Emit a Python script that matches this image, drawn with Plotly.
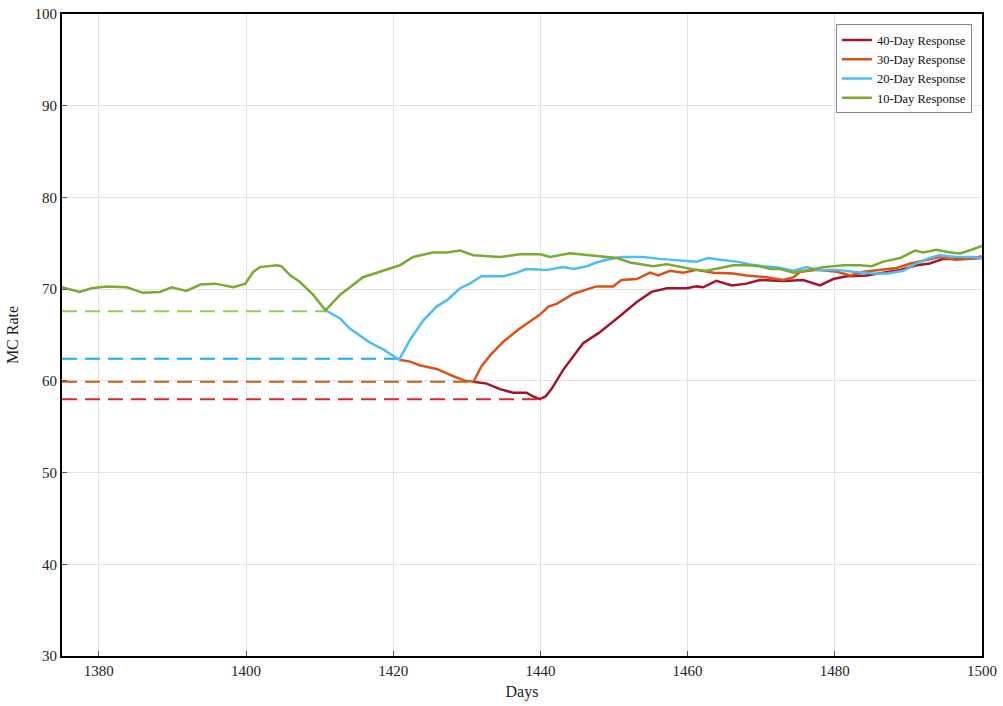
import plotly.graph_objects as go

# ---- data ----
d10 = [1375, 1377.4, 1379, 1381, 1383.8, 1386, 1388.3, 1389.9, 1391.9, 1393.8, 1395.8, 1398.3, 1399.9,
       1401, 1401.9, 1404.2, 1404.8, 1406, 1407.3, 1409.1, 1410.8, 1412.8, 1415.9, 1419.1, 1420.9, 1422.7,
       1425.4, 1427.3, 1429.1, 1430.9, 1434.5, 1437.2, 1440, 1441.3, 1444, 1446.7, 1449.5, 1450.4, 1452.2,
       1455.3, 1457.2, 1459.4, 1461.2, 1462.6, 1464.4, 1466.2, 1468, 1469.8, 1471.2, 1472.6, 1474.4, 1476.2,
       1478.5, 1481.2, 1483.4, 1485, 1486.6, 1488.9, 1490.9, 1492, 1493.8, 1495.7, 1497, 1498.6, 1500]
v10 = [70.2, 69.7, 70.1, 70.3, 70.2, 69.6, 69.7, 70.2, 69.8, 70.5, 70.6, 70.2, 70.6,
       71.9, 72.4, 72.6, 72.5, 71.5, 70.8, 69.4, 67.7, 69.4, 71.3, 72.1, 72.6, 73.5,
       74.0, 74.0, 74.2, 73.7, 73.5, 73.8, 73.8, 73.5, 73.9, 73.7, 73.5, 73.4, 72.9,
       72.5, 72.7, 72.4, 72.1, 72.0, 72.3, 72.6, 72.6, 72.5, 72.2, 72.2, 71.8, 72.1,
       72.4, 72.6, 72.6, 72.5, 73.0, 73.4, 74.2, 74.0, 74.3, 74.0, 73.9, 74.3, 74.7]

d20 = [1410.8, 1412.8, 1414.1, 1416.8, 1418.7, 1420.8, 1422.3, 1424.1, 1425.9, 1427.3, 1429.1, 1430.4,
       1432, 1435, 1436.8, 1438.1, 1440.9, 1443.1, 1444.5, 1446.3, 1447.6, 1449, 1451, 1454, 1456.2,
       1459, 1461.2, 1462.8, 1464.4, 1466.7, 1468.5, 1470.3, 1472.1, 1474.4, 1476.2, 1477.6, 1480.3,
       1482.5, 1485.3, 1487.1, 1489.3, 1491.1, 1492.9, 1494.2, 1496.5, 1498.6, 1500]
v20 = [67.7, 66.8, 65.7, 64.2, 63.4, 62.3, 64.5, 66.6, 68.1, 68.8, 70.1, 70.6,
       71.4, 71.4, 71.8, 72.2, 72.1, 72.4, 72.2, 72.5, 72.9, 73.2, 73.5, 73.5, 73.3,
       73.1, 73.0, 73.4, 73.2, 73.0, 72.7, 72.5, 72.4, 72.0, 72.4, 72.1, 72.1,
       71.9, 71.7, 71.7, 72.0, 72.8, 73.4, 73.7, 73.5, 73.5, 73.4]

d30 = [1420.8, 1422.3, 1423.6, 1425.9, 1428.2, 1429.8, 1430.9, 1432, 1433.2, 1435, 1437.2, 1439.9,
       1441.1, 1442.2, 1444.5, 1447.6, 1449.9, 1451, 1453.1, 1454.9, 1456, 1457.6, 1459.4, 1461.2,
       1463.5, 1466.2, 1468, 1470.7, 1473, 1474.4, 1475.3, 1477.6, 1480.3, 1482.1, 1483.9, 1485.8,
       1488.4, 1490.3, 1492, 1494.2, 1496.5, 1498.4, 1500]
v30 = [62.3, 62.1, 61.7, 61.3, 60.5, 60.0, 59.9, 61.6, 62.8, 64.3, 65.7, 67.2,
       68.1, 68.4, 69.5, 70.3, 70.3, 71.0, 71.1, 71.8, 71.5, 72.0, 71.8, 72.1,
       71.8, 71.7, 71.5, 71.3, 71.0, 71.3, 71.9, 72.1, 71.9, 71.5, 71.9, 72.1,
       72.3, 72.8, 73.1, 73.5, 73.2, 73.3, 73.6]

d40 = [1430.9, 1432.7, 1434.5, 1436.3, 1438.1, 1439, 1439.9, 1440.7, 1441.5, 1443.1, 1445.8, 1447.9,
       1450.4, 1453.1, 1455.1, 1457.2, 1459.9, 1461.2, 1462.1, 1463.9, 1466, 1468, 1469.8, 1473,
       1475.7, 1476.9, 1478, 1479.8, 1481.6, 1484.3, 1486.6, 1488.9, 1491.1, 1492.9, 1494.7, 1497, 1500]
v40 = [59.9, 59.7, 59.1, 58.7, 58.7, 58.3, 58.0, 58.3, 59.1, 61.2, 64.1, 65.2,
       66.8, 68.6, 69.7, 70.1, 70.1, 70.3, 70.2, 70.9, 70.4, 70.6, 71.0, 70.9,
       71.0, 70.7, 70.4, 71.1, 71.4, 71.5, 71.8, 72.1, 72.6, 72.8, 73.3, 73.3, 73.4]

series_names = ["40-Day Response", "30-Day Response", "20-Day Response", "10-Day Response"]
series_days = [d40, d30, d20, d10]
series_vals = [v40, v30, v20, v10]
line_colors = ["#A2142F", "#D95319", "#4DBEEE", "#77AC30"]

# minimum points marked with dashed reference lines
min_days = [1440, 1431, 1421, 1411]
min_vals = [58.0, 59.9, 62.4, 67.6]
dash_colors = ["#E3262B", "#C8601A", "#12AEEB", "#92D050"]
x_start = 1375

fig = go.Figure()

for md, mv, dc in zip(min_days, min_vals, dash_colors):
    fig.add_trace(go.Scatter(x=[x_start, md], y=[mv, mv], mode="lines",
                             line=dict(color=dc, width=2, dash="15px,8px"),
                             showlegend=False, hoverinfo="skip"))

for name, xs, ys, c in zip(series_names, series_days, series_vals, line_colors):
    fig.add_trace(go.Scatter(x=xs, y=ys, mode="lines", name=name,
                             line=dict(color=c, width=2.5)))

font_family = "Liberation Serif, Times New Roman, serif"
fig.update_layout(
    width=1003, height=706,
    margin=dict(l=62, r=21, t=14, b=50, autoexpand=False),
    paper_bgcolor="white", plot_bgcolor="white",
    font=dict(family=font_family, color="#222", size=15),
    legend=dict(x=0.989, y=0.984, xanchor="right", yanchor="top",
                bgcolor="white", bordercolor="#888", borderwidth=1,
                font=dict(family=font_family, size=12.5, color="#111"),
                tracegroupgap=0, itemwidth=30),
    xaxis=dict(range=[1375, 1500], tickmode="array",
               tickvals=[1380, 1400, 1420, 1440, 1460, 1480, 1500],
               showgrid=True, gridcolor="#E3E3E3", gridwidth=1,
               showline=True, linecolor="black", linewidth=2, mirror=True,
               ticks="inside", ticklen=5, tickcolor="#555",
               title=dict(text="Days", font=dict(size=16), standoff=8),
               zeroline=False),
    yaxis=dict(range=[30, 100], tickmode="array",
               tickvals=[30, 40, 50, 60, 70, 80, 90, 100],
               showgrid=True, gridcolor="#E3E3E3", gridwidth=1,
               showline=True, linecolor="black", linewidth=2, mirror=True,
               ticks="inside", ticklen=5, tickcolor="#555",
               title=dict(text="MC Rate", font=dict(size=16), standoff=12),
               zeroline=False),
)

fig.write_html("out.html", config={"displayModeBar": False},
               post_script="document.body.style.margin='0';document.body.style.overflow='hidden';")
